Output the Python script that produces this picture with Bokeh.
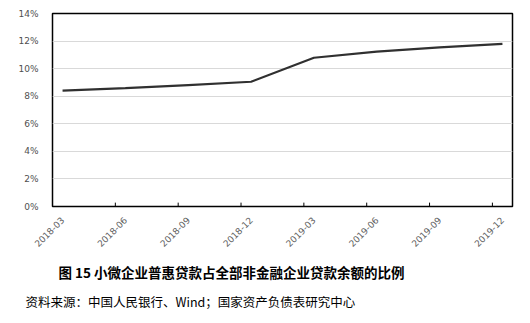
import math
from bokeh.plotting import figure
from bokeh.models import ColumnDataSource, FixedTicker, Range1d, Title
from bokeh.embed import file_html
from bokeh.resources import INLINE

categories = ["2018-03", "2018-06", "2018-09", "2018-12",
              "2019-03", "2019-06", "2019-09", "2019-12"]
ratio_pct = [8.40, 8.58, 8.81, 9.05, 10.79, 11.23, 11.54, 11.80]
y_ticks = [0, 2, 4, 6, 8, 10, 12, 14]
title_text = "图 15 小微企业普惠贷款占全部非金融企业贷款余额的比例"
source_text = "资料来源：中国人民银行、Wind；国家资产负债表研究中心"

idx = list(range(len(categories)))
pad = 0.16

p = figure(width=530, height=323, output_backend="svg", toolbar_location=None,
           x_range=Range1d(-pad, len(categories) - 1 + pad),
           y_range=Range1d(0, 14),
           min_border_left=52, min_border_right=18,
           min_border_top=13, min_border_bottom=117)

p.outline_line_color = "black"
p.outline_line_width = 1.5
p.background_fill_color = "white"
p.border_fill_color = "white"

src = ColumnDataSource(dict(x=idx, y=ratio_pct))
p.line("x", "y", source=src, line_color="#303030", line_width=2.2)

# small inward tick marks at category boundaries
bx = [i - pad for i in idx[1:]]
p.segment(x0=bx, x1=bx, y0=[0] * len(bx), y1=[0.28] * len(bx),
          line_color="black", line_width=1)

# x axis
xa = p.xaxis[0]
xa.ticker = FixedTicker(ticks=idx)
xa.major_label_overrides = {i: c for i, c in zip(idx, categories)}
xa.major_label_orientation = math.pi / 4
xa.major_tick_line_color = None
xa.minor_tick_line_color = None
xa.axis_line_color = None
xa.major_label_text_font = "DejaVu Sans"
xa.major_label_text_font_size = "9px"
xa.major_label_text_color = "#606060"
xa.major_label_standoff = 6

# y axis
ya = p.yaxis[0]
ya.ticker = FixedTicker(ticks=y_ticks)
ya.major_label_overrides = {v: f"{v}%" for v in y_ticks}
ya.major_tick_line_color = None
ya.minor_tick_line_color = None
ya.axis_line_color = None
ya.major_label_text_font = "DejaVu Sans"
ya.major_label_text_font_size = "9px"
ya.major_label_text_color = "#505050"
ya.major_label_standoff = 8

p.xgrid.grid_line_color = None
p.ygrid.grid_line_color = "#d9d9d9"
p.ygrid.grid_line_width = 1
p.ygrid.ticker = FixedTicker(ticks=y_ticks)

t1 = Title(text=title_text, align="left", offset=6, standoff=16,
           vertical_align="top",
           text_font="Noto Sans CJK SC", text_font_style="bold",
           text_font_size="13.5px", text_color="black")
t2 = Title(text=source_text, align="left", offset=-27, standoff=0,
           vertical_align="top",
           text_font="Noto Sans CJK SC", text_font_style="normal",
           text_font_size="12.5px", text_color="black")
p.add_layout(t1, "below")
p.add_layout(t2, "below")

open("out.html", "w").write(file_html(p, INLINE))
